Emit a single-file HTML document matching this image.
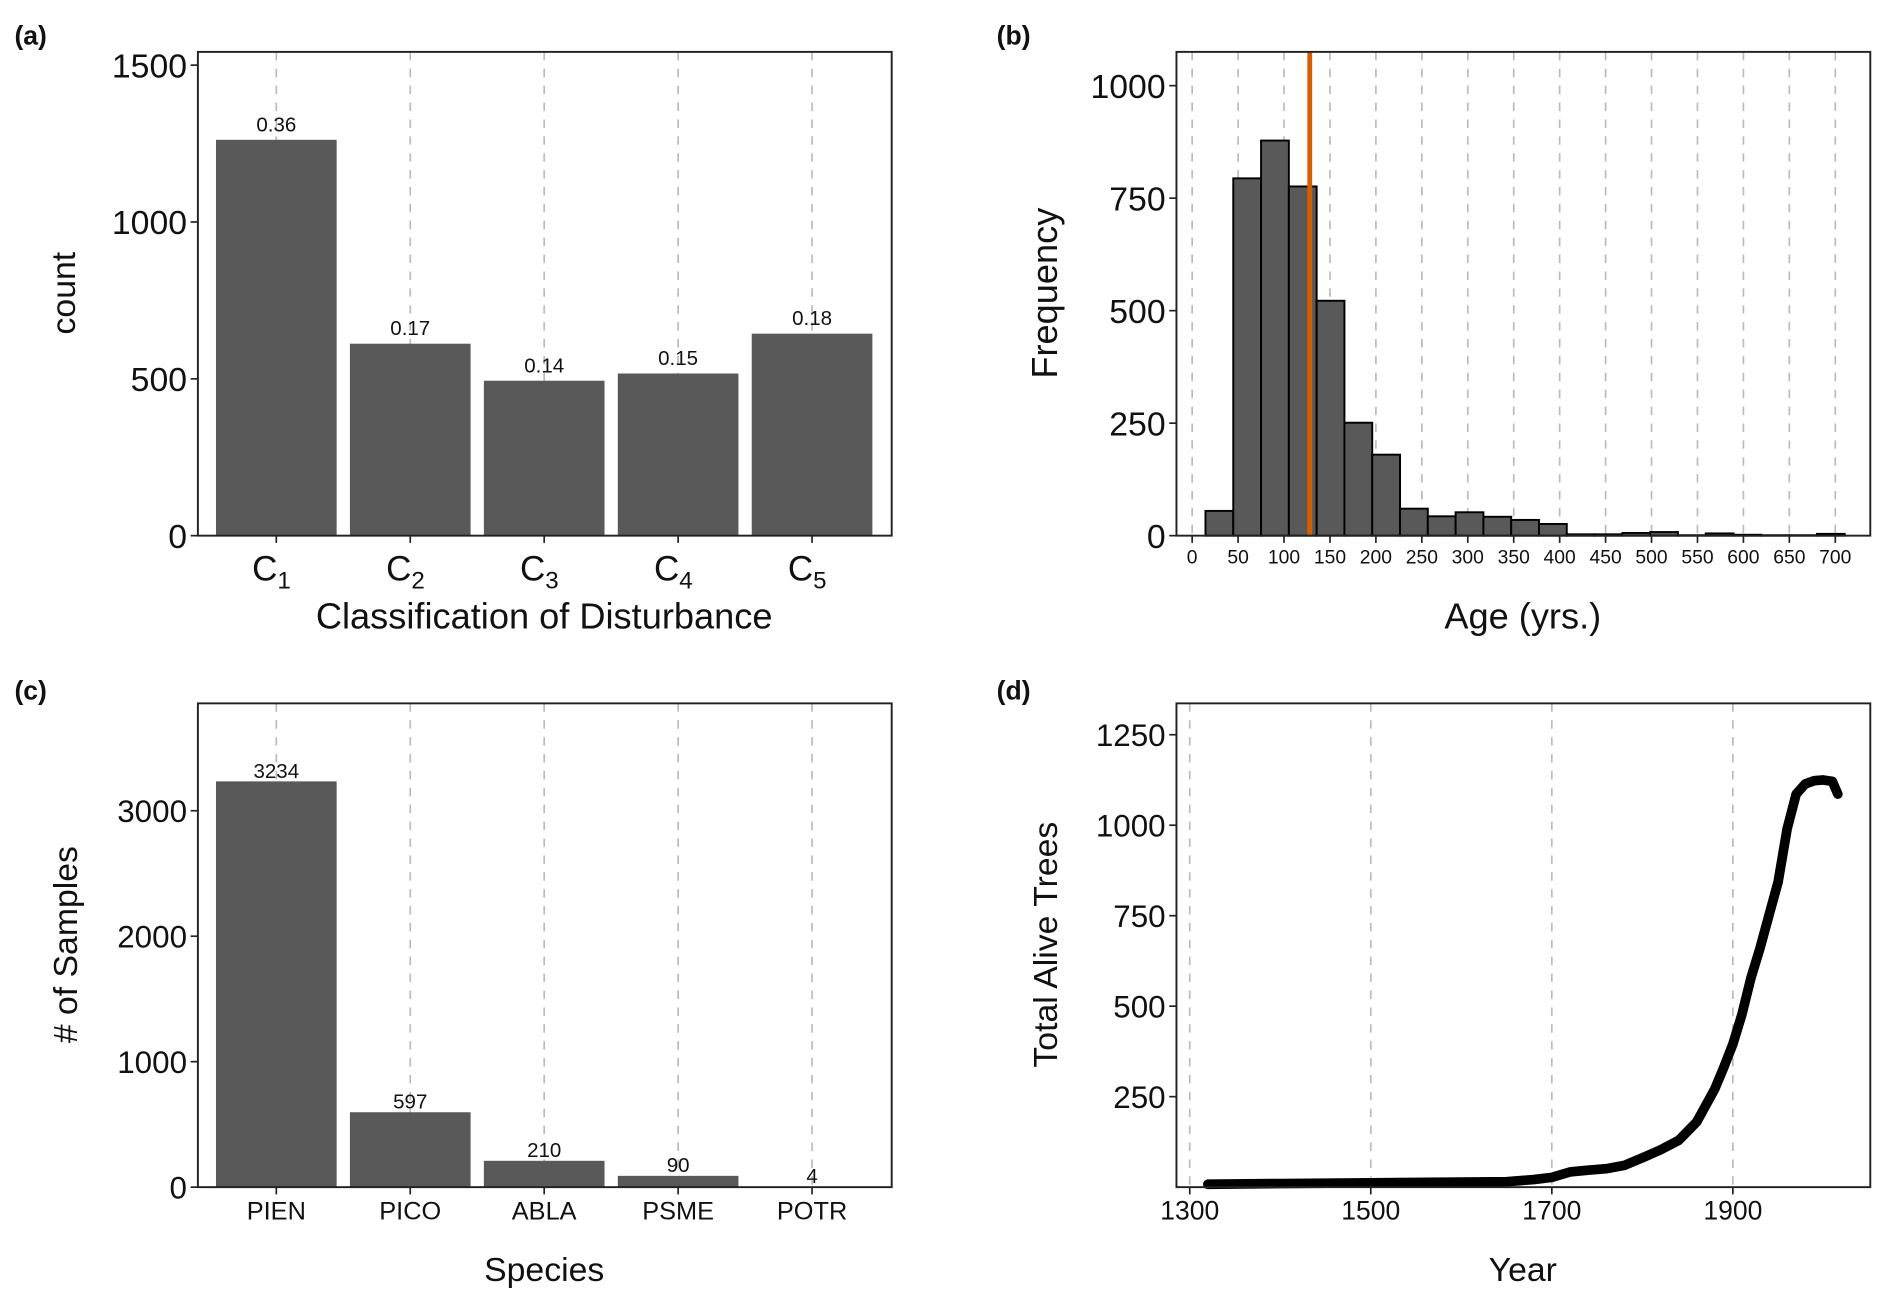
<!DOCTYPE html>
<html><head><meta charset="utf-8"><style>
html,body{margin:0;padding:0;background:#fff;}
svg{display:block;font-family:"Liberation Sans",Arial,sans-serif;}
</style></head><body>
<svg id="fig" width="1892" height="1309" viewBox="0 0 1568 1085" preserveAspectRatio="none" xmlns="http://www.w3.org/2000/svg"></svg>
<script>
// ---- Panel (a) data
const aCats = ["1","2","3","4","5"];
const aCounts = [1262, 612, 494, 517, 644];
const aProps = ["0.36","0.17","0.14","0.15","0.18"];
const aTicks = [0,500,1000,1500];
// ---- Panel (b) data
const bCounts = [55,794,878,776,522,251,180,60,43,52,42,35,26,3,3,6,8,1,5,2,1,1,4];
const bStart = 14.5;
const bWidth = 30.25;
const bMedian = 128;
const bXTicks = [0,50,100,150,200,250,300,350,400,450,500,550,600,650,700];
const bYTicks = [0,250,500,750,1000];
// ---- Panel (c) data
const cCats = ["PIEN","PICO","ABLA","PSME","POTR"];
const cCounts = [3234,597,210,90,4];
const cTicks = [0,1000,2000,3000];
// ---- Panel (d) data
const dYears = [1320,1400,1500,1600,1650,1680,1700,1720,1740,1760,1780,1800,1820,1840,1860,1880,1890,1900,1910,1920,1930,1940,1950,1960,1970,1980,1990,2000,2010,2012,2016];
const dAlive = [8,10,12,14,15,21,27,42,47,51,60,81,103,129,180,271,331,395,477,578,660,752,843,990,1086,1114,1123,1125,1121,1109,1086];
const dXTicks = [1300,1500,1700,1900];
const dYTicks = [250,500,750,1000,1250];

const NS="http://www.w3.org/2000/svg";
const svg=document.getElementById('fig');
function mk(tag,attrs,parent,text){const e=document.createElementNS(NS,tag);for(const k in attrs)e.setAttribute(k,attrs[k]);if(text!==undefined)e.textContent=text;(parent||svg).appendChild(e);return e;}

function frame(g,L,R,T,B){
  const r=mk('rect',{x:L,y:T,width:R-L,height:B-T,fill:'none',stroke:'#222','stroke-width':1.6},g);
  
  
}
function vgrid(g,x,T,B){
  const l=mk('line',{x1:x,x2:x,y1:T,y2:B,stroke:'#bbb','stroke-width':1.4,'stroke-dasharray':'7,7'},g);
  
  
}
function yTick(g,y,L,label,fs){
  mk('line',{x1:L-6,x2:L,y1:y,y2:y,stroke:'#222','stroke-width':1.4},g);
  const t=mk('text',{x:L-9,y:y+fs*0.36,'text-anchor':'end','font-size':fs,fill:'#111'},g,label);
  
  
}
function xTick(g,x,B,label,fs,dy){
  mk('line',{x1:x,x2:x,y1:B,y2:B+6,stroke:'#222','stroke-width':1.4},g);
  if(label!==null){
    const t=mk('text',{x:x,y:B+dy,'text-anchor':'middle','font-size':fs,fill:'#111'},g,label);
    
    
  }
}
function title(g,x,y,txt,fs,rot,name){
  const t=mk('text',{x:x,y:y,'text-anchor':'middle','font-size':fs,fill:'#111'},g,txt);
  if(rot)t.setAttribute('transform','rotate(-90 '+x+' '+y+')');
  
  
}
function plabel(x,y,txt){
  const t=mk('text',{x:x,y:y,'font-size':22,'font-weight':'bold',fill:'#111'},svg,txt);
  
  
}

// ===== Panel A
(function(){
  const g=mk('g',{});
  const L=164,R=739,T=43,B=444;
  const y=v=>B-v*(130/500);
  const x=i=>229+i*111;
  aCats.forEach((c,i)=>vgrid(g,x(i),T,B));
  aCounts.forEach((v,i)=>{
    const r=mk('rect',{x:x(i)-50,y:y(v),width:100,height:B-y(v),fill:'#595959'},g);
    
    
    const t=mk('text',{x:x(i),y:y(v)-7,'text-anchor':'middle','font-size':17,fill:'#111'},g,aProps[i]);
    
    
  });
  frame(g,L,R,T,B);
  aTicks.forEach(v=>yTick(g,y(v),L,String(v),28));
  aCats.forEach((c,i)=>{
    xTick(g,x(i),B,null);
    const t=mk('text',{x:x(i)-4,y:B+37,'text-anchor':'middle','font-size':29,fill:'#111'},g);
    
    
    mk('tspan',{},t,'C');
    mk('tspan',{'font-size':20,dy:7},t,c);
  });
  title(g,451,521,'Classification of Disturbance',30,false,'x-axis-title');
  title(g,62,243,'count',28,true,'y-axis-title');
})();

// ===== Panel B
(function(){
  const g=mk('g',{});
  const L=975,R=1550,T=43,B=444;
  const x=v=>988+v*(533/700);
  const y=v=>B-v*0.373;
  bXTicks.forEach(v=>vgrid(g,x(v),T,B));
  bCounts.forEach((c,i)=>{
    const x0=x(bStart+i*bWidth),x1=x(bStart+(i+1)*bWidth);
    const r=mk('rect',{x:x0,y:y(c),width:x1-x0,height:B-y(c),fill:'#595959',stroke:'#000','stroke-width':1.6},g);
    
    
  });
  const m=mk('line',{x1:x(bMedian),x2:x(bMedian),y1:T,y2:B,stroke:'#d55e00','stroke-width':4},g);
  
  
  frame(g,L,R,T,B);
  bYTicks.forEach(v=>yTick(g,y(v),L,String(v),28));
  bXTicks.forEach(v=>xTick(g,x(v),B,String(v),16,23));
  title(g,1262,521,'Age (yrs.)',30,false,'x-axis-title');
  title(g,876,243,'Frequency',30,true,'y-axis-title');
})();

// ===== Panel C
(function(){
  const g=mk('g',{});
  const L=164,R=739,T=583,B=984;
  const y=v=>B-v*0.104;
  const x=i=>229+i*111;
  cCats.forEach((c,i)=>vgrid(g,x(i),T,B));
  cCounts.forEach((v,i)=>{
    const r=mk('rect',{x:x(i)-50,y:y(v),width:100,height:B-y(v),fill:'#595959'},g);
    
    
    const t=mk('text',{x:x(i),y:y(v)-3,'text-anchor':'middle','font-size':17,fill:'#111'},g,String(v));
    
    
  });
  frame(g,L,R,T,B);
  cTicks.forEach(v=>yTick(g,y(v),L,String(v),26));
  cCats.forEach((c,i)=>xTick(g,x(i),B,c,21,27));
  title(g,451,1062,'Species',28,false,'x-axis-title');
  title(g,64,783,'# of Samples',28,true,'y-axis-title');
})();

// ===== Panel D
(function(){
  const g=mk('g',{});
  const L=975,R=1550,T=583,B=984;
  const x=v=>986+(v-1300)*0.7502;
  const y=v=>B-v*0.3;
  dXTicks.forEach(v=>vgrid(g,x(v),T,B));
  const pts=dYears.map((yr,i)=>x(yr).toFixed(1)+','+y(dAlive[i]).toFixed(1)).join(' ');
  const p=mk('polyline',{points:pts,fill:'none',stroke:'#000','stroke-width':8,'stroke-linejoin':'round','stroke-linecap':'round'},g);
  
  
  frame(g,L,R,T,B);
  dYTicks.forEach(v=>yTick(g,y(v),L,String(v),26));
  dXTicks.forEach(v=>xTick(g,x(v),B,String(v),22,27));
  title(g,1262,1062,'Year',28,false,'x-axis-title');
  title(g,876,783,'Total Alive Trees',28,true,'y-axis-title');
})();

plabel(12,37,'(a)');
plabel(826,37,'(b)');
plabel(12,580,'(c)');
plabel(826,580,'(d)');
</script>
</body></html>
